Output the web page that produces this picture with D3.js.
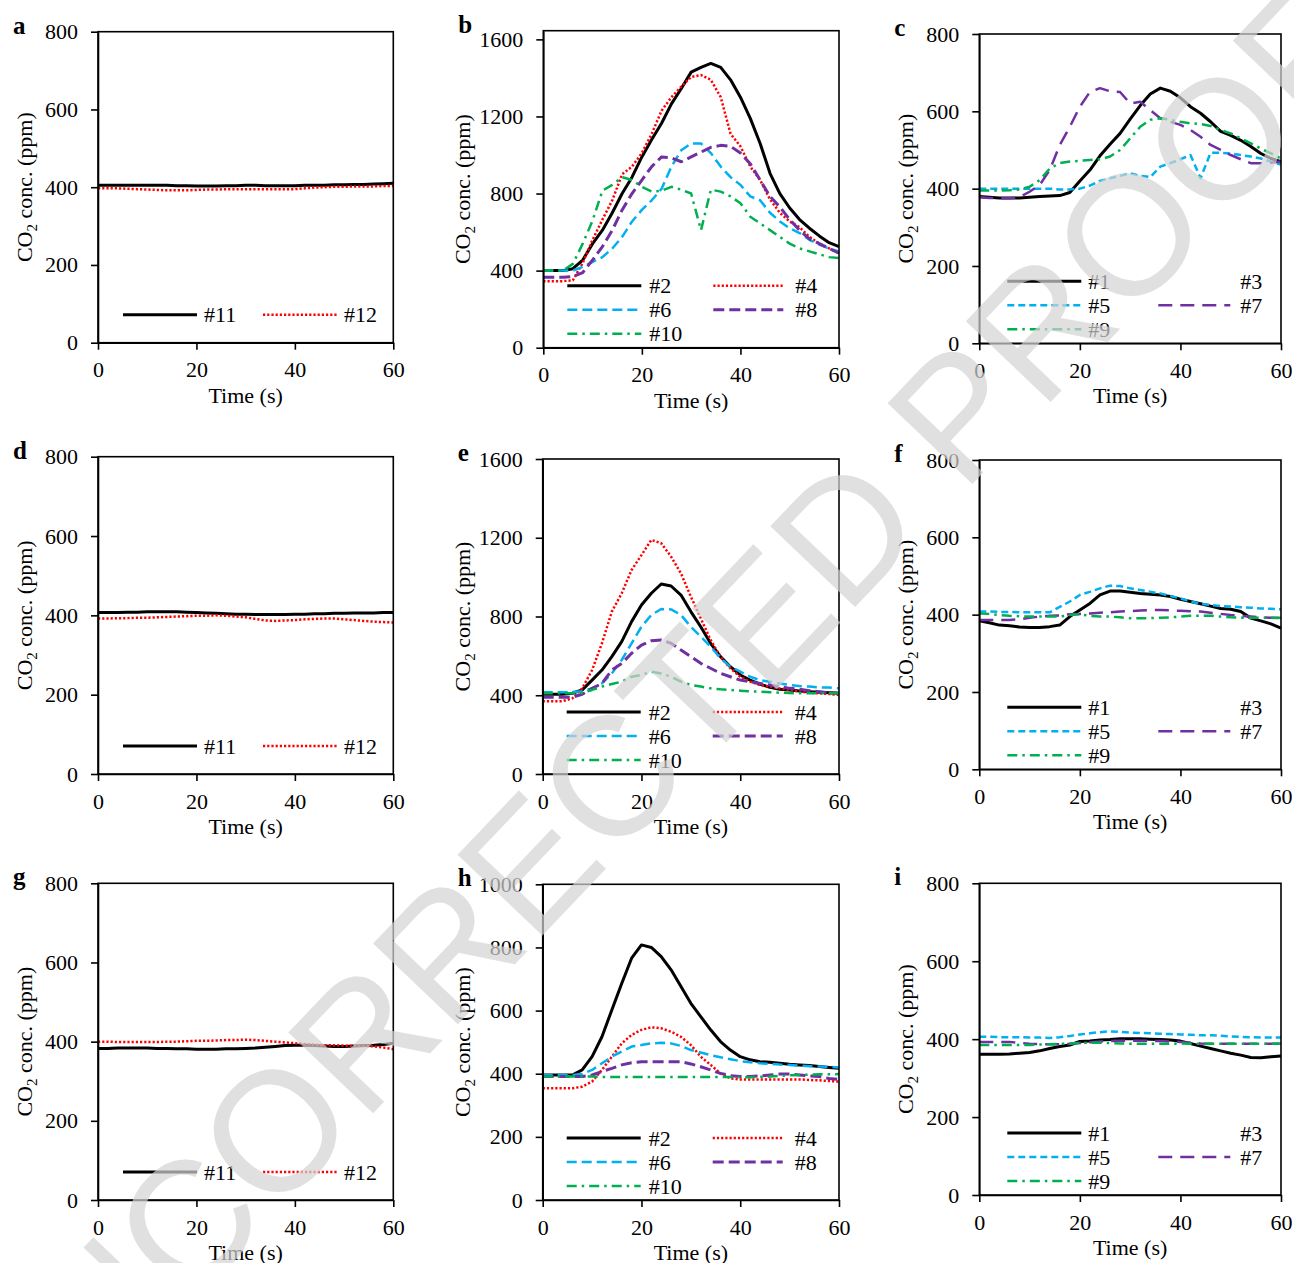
<!DOCTYPE html>
<html>
<head>
<meta charset="utf-8">
<script src="https://cdn.jsdelivr.net/npm/d3@7"></script>
<style>
  body { margin: 0; background: #fff; }
</style>
</head>
<body>
<div id="container"></div>
<script>
// shared time axis (s)
const time = [0,2,4,6,8,10,12,14,16,18,20,22,24,26,28,30,32,34,36,38,40,42,44,46,48,50,52,54,56,58,60];
const xTicks = [0,20,40,60];
const yTicks800 = [0,200,400,600,800];
const yTicks1000 = [0,200,400,600,800,1000];
const yTicks1600 = [0,400,800,1200,1600];

// CO2 concentration (ppm) per panel and sensor
const aS11 = [405,405,405,405,405,405,405,405,404,404,403,403,403,404,404,405,405,404,404,404,404,405,405,405,406,406,407,407,408,409,410];
const aS12 = [397,397,397,396,395,394,393,392,392,392,393,394,394,395,395,395,395,395,395,395,395,397,399,400,401,401,402,402,402,403,403];

const bS2  = [400,400,400,410,455,540,610,700,800,885,990,1080,1165,1265,1345,1430,1455,1475,1455,1390,1300,1190,1060,905,800,725,665,620,580,545,525];
const bS4  = [345,345,345,350,440,560,665,765,900,940,1010,1110,1230,1300,1355,1405,1415,1390,1300,1110,1045,940,870,770,700,655,625,575,540,515,490];
const bS6  = [400,400,400,400,420,445,470,515,575,655,715,765,825,940,1025,1060,1060,1010,940,885,845,785,765,700,655,620,595,560,535,515,500];
const bS8  = [365,365,365,370,390,455,525,610,715,800,870,940,990,985,965,990,1015,1040,1050,1045,1010,955,870,785,730,665,610,565,540,515,490];
const bS10 = [400,400,400,435,540,660,815,845,885,870,835,810,815,835,820,800,610,820,810,785,750,680,645,610,575,540,515,500,485,470,465];

const cS1 = [380,378,376,376,376,378,380,381,382,390,420,448,485,515,543,580,615,645,660,652,635,612,595,573,548,538,525,509,491,478,470];
const cS5 = [400,400,400,400,400,400,400,400,398,398,400,408,420,427,433,440,433,430,457,466,476,487,427,493,493,491,487,483,478,470,462];
const cS7 = [378,376,375,375,378,392,409,448,513,560,612,650,660,652,650,620,625,603,582,573,565,552,534,513,500,487,476,466,466,467,470];
const cS9 = [395,395,395,396,398,405,422,452,466,470,472,474,476,483,500,530,560,578,582,578,573,569,567,562,552,543,530,517,504,491,478];

const dS11 = [407,407,407,408,408,409,409,409,409,408,407,406,405,404,403,403,402,402,402,402,403,403,404,404,405,405,406,406,406,407,407];
const dS12 = [392,392,393,393,394,394,395,396,397,398,399,399,400,399,397,395,391,387,386,387,388,390,391,392,392,390,388,386,384,383,382];

const eS2  = [405,405,405,410,427,477,528,596,672,774,858,918,965,955,909,825,748,664,596,545,503,477,457,440,430,427,422,418,415,413,410];
const eS4  = [370,370,370,384,435,528,664,825,918,1036,1112,1189,1172,1104,1019,901,791,681,596,537,494,469,452,444,435,427,418,413,410,406,401];
const eS6  = [415,415,415,416,420,435,460,511,579,664,748,808,838,836,808,748,698,647,588,545,520,494,477,469,460,452,447,444,440,439,435];
const eS8  = [390,390,390,390,405,435,460,528,562,613,655,677,681,664,630,596,562,537,511,494,477,469,460,452,444,435,430,423,418,413,410];
const eS10 = [410,410,410,410,412,427,444,457,469,494,503,520,511,494,469,452,444,435,430,427,423,420,418,415,413,411,410,410,410,410,410];

const fS1 = [384,379,373,371,368,367,367,369,373,395,412,429,451,461,461,458,455,453,451,447,440,434,428,422,416,414,408,391,384,376,365];
const fS5 = [408,408,407,407,406,406,406,406,420,434,451,459,468,475,474,468,464,459,455,448,442,434,428,425,422,421,419,418,416,415,414];
const fS7 = [386,386,386,386,388,392,395,397,398,401,402,403,405,406,408,409,411,412,412,411,410,409,408,405,402,399,397,395,393,392,391];
const fS9 = [403,402,399,397,396,395,395,395,395,399,401,397,395,395,393,391,391,391,392,393,395,397,397,397,395,393,392,392,392,392,392];

const gS11 = [383,383,384,384,384,384,383,383,382,382,381,381,381,382,382,383,384,386,388,390,391,391,390,389,388,388,389,390,391,393,396];
const gS12 = [400,400,399,399,399,399,399,400,400,401,402,402,403,404,404,405,404,402,400,398,396,394,392,391,391,390,389,389,388,385,381];

const hS2  = [396,396,396,396,412,454,517,602,686,766,808,800,771,729,676,623,581,539,502,475,454,444,438,436,433,430,428,426,423,420,417];
const hS4  = [354,354,354,354,359,375,412,454,496,523,539,547,544,533,517,491,454,428,401,385,382,382,382,382,382,382,382,380,379,377,375];
const hS6  = [396,396,396,396,399,412,433,454,470,486,491,496,498,496,488,475,467,459,452,446,440,436,433,431,429,428,426,424,423,422,420];
const hS8  = [391,391,391,391,391,396,407,417,428,435,438,438,438,438,438,431,422,412,401,394,391,391,393,396,399,399,396,393,391,385,382];
const hS10 = [391,391,391,391,391,391,390,390,390,390,390,390,390,390,390,390,390,390,390,390,389,389,390,391,393,395,396,397,398,398,399];

const iS1 = [361,361,361,362,364,366,370,376,381,385,394,395,398,399,401,401,401,400,399,398,395,389,382,376,370,364,359,353,352,355,357];
const iS5 = [406,406,405,405,405,404,404,403,405,408,412,415,418,420,419,417,416,415,414,413,412,411,410,410,409,407,406,405,404,404,404];
const iS7 = [393,393,393,393,390,388,387,387,387,388,390,392,394,395,396,396,396,396,395,394,393,391,389,388,388,388,388,388,388,388,388];
const iS9 = [385,385,385,385,385,385,386,387,388,389,390,391,391,390,389,388,388,388,388,388,389,388,388,388,388,388,388,388,388,388,389];

// line styles
const styles = {
  black:      { color: "#000000", width: 3,   dash: null },
  red:        { color: "#ff0000", width: 2.5, dash: "2.2,2" },
  blue:       { color: "#00b0f0", width: 2.5, dash: "10,5" },
  blueShort:  { color: "#00b0f0", width: 2.5, dash: "7,4" },
  purple:     { color: "#7030a0", width: 3,   dash: "11,5" },
  purpleLong: { color: "#7030a0", width: 2.5, dash: "14,8" },
  green:      { color: "#00b050", width: 2.5, dash: "10,5,2.5,5" }
};

// legend layouts: cols = [lineStart, lineEnd, textX] from plot left, rows from plot bottom
const legend2 = { rows: [-28], cols: [[25, 99, 106], [165, 239, 246]] };
const legend5even = { rows: [-62, -38, -14], cols: [[24, 98, 106], [170, 240, 252]] };
const legend5odd = { rows: [-62, -38, -14], cols: [[28, 102, 109], [179, 251, 261]] };

const panels = [
  { tag: "a", left: 98,    top: 31.7,  right: 393.3, bottom: 342.7, yTop: 800,  yTicks: yTicks800,  titleOff: 66, leg: legend2,
    series: [["#11", aS11, "black"], ["#12", aS12, "red"]] },
  { tag: "b", left: 543.3, top: 30.7,  right: 839,   bottom: 347.7, yTop: 1645, yTicks: yTicks1600, titleOff: 73, leg: legend5even,
    series: [["#2", bS2, "black"], ["#4", bS4, "red"], ["#6", bS6, "blue"], ["#8", bS8, "purple"], ["#10", bS10, "green"]] },
  { tag: "c", left: 979.3, top: 34,    right: 1281,  bottom: 343.3, yTop: 800,  yTicks: yTicks800,  titleOff: 66, leg: legend5odd,
    series: [["#1", cS1, "black"], ["#3", null, null], ["#5", cS5, "blueShort"], ["#7", cS7, "purpleLong"], ["#9", cS9, "green"]] },
  { tag: "d", left: 98,    top: 456.7, right: 393.3, bottom: 774,   yTop: 800,  yTicks: yTicks800,  titleOff: 66, leg: legend2,
    series: [["#11", dS11, "black"], ["#12", dS12, "red"]] },
  { tag: "e", left: 542.7, top: 459,   right: 839,   bottom: 774,   yTop: 1600, yTicks: yTicks1600, titleOff: 73, leg: legend5even,
    series: [["#2", eS2, "black"], ["#4", eS4, "red"], ["#6", eS6, "blue"], ["#8", eS8, "purple"], ["#10", eS10, "green"]] },
  { tag: "f", left: 979.3, top: 460,   right: 1281,  bottom: 769.3, yTop: 800,  yTicks: yTicks800,  titleOff: 66, leg: legend5odd,
    series: [["#1", fS1, "black"], ["#3", null, null], ["#5", fS5, "blueShort"], ["#7", fS7, "purpleLong"], ["#9", fS9, "green"]] },
  { tag: "g", left: 98,    top: 883.3, right: 393.3, bottom: 1200,  yTop: 800,  yTicks: yTicks800,  titleOff: 66, leg: legend2,
    series: [["#11", gS11, "black"], ["#12", gS12, "red"]] },
  { tag: "h", left: 542.7, top: 884.3, right: 839,   bottom: 1200,  yTop: 1000, yTicks: yTicks1000, titleOff: 73, leg: legend5even,
    series: [["#2", hS2, "black"], ["#4", hS4, "red"], ["#6", hS6, "blue"], ["#8", hS8, "purple"], ["#10", hS10, "green"]] },
  { tag: "i", left: 979.3, top: 883.3, right: 1281,  bottom: 1195,  yTop: 800,  yTicks: yTicks800,  titleOff: 66, leg: legend5odd,
    series: [["#1", iS1, "black"], ["#3", null, null], ["#5", iS5, "blueShort"], ["#7", iS7, "purpleLong"], ["#9", iS9, "green"]] }
];

const serif = "'Liberation Serif', 'Times New Roman', serif";

let viz = d3.select("#container")
  .append("svg")
    .attr("width", 1294)
    .attr("height", 1263)
    .style("background", "#fff");

panels.forEach(p => {
  const x = d3.scaleLinear().domain([0, 60]).range([p.left, p.right]);
  const y = d3.scaleLinear().domain([0, p.yTop]).range([p.bottom, p.top]);
  const g = viz.append("g");

  // series lines
  const line = d3.line()
    .x((d, i) => x(time[i]))
    .y(d => y(d));

  p.series.forEach(s => {
    if (!s[1]) return;
    const st = styles[s[2]];
    g.append("path")
      .datum(s[1])
      .attr("d", line)
      .attr("fill", "none")
      .attr("stroke", st.color)
      .attr("stroke-width", st.width)
      .attr("stroke-dasharray", st.dash)
      .attr("stroke-linejoin", "round");
  });

  // frame
  g.append("rect")
    .attr("x", p.left)
    .attr("y", p.top)
    .attr("width", p.right - p.left)
    .attr("height", p.bottom - p.top)
    .attr("fill", "none")
    .attr("stroke", "black")
    .attr("stroke-width", 1.6);

  // axes
  const yAxis = g.append("g")
    .attr("transform", `translate(${p.left},0)`)
    .call(d3.axisLeft(y).tickValues(p.yTicks).tickFormat(d3.format("d"))
      .tickSize(7).tickSizeOuter(0).tickPadding(13));
  const xAxis = g.append("g")
    .attr("transform", `translate(0,${p.bottom})`)
    .call(d3.axisBottom(x).tickValues(xTicks).tickFormat(d3.format("d"))
      .tickSize(7).tickSizeOuter(0).tickPadding(12));

  [yAxis, xAxis].forEach(ax => {
    ax.select(".domain").attr("stroke", "black").attr("stroke-width", 1.6);
    ax.selectAll(".tick line").attr("stroke", "black").attr("stroke-width", 1.6);
    ax.selectAll("text")
      .attr("font-family", serif)
      .attr("font-size", 22)
      .attr("fill", "black");
  });

  // axis titles
  g.append("text")
    .text("Time (s)")
    .attr("font-family", serif)
    .attr("font-size", 22)
    .attr("text-anchor", "middle")
    .attr("x", (p.left + p.right) / 2)
    .attr("y", p.bottom + 60);

  const yt = g.append("text")
    .attr("font-family", serif)
    .attr("font-size", 22)
    .attr("text-anchor", "middle")
    .attr("transform", `translate(${p.left - p.titleOff},${(p.top + p.bottom) / 2}) rotate(-90)`);
  yt.append("tspan").text("CO");
  yt.append("tspan").text("2").attr("font-size", 15).attr("dy", 5);
  yt.append("tspan").text(" conc. (ppm)").attr("dy", -5);

  // panel letter
  g.append("text")
    .text(p.tag)
    .attr("font-family", serif)
    .attr("font-weight", "bold")
    .attr("font-size", 25)
    .attr("x", p.left - 85)
    .attr("y", p.top + 2);

  // legend
  p.series.forEach((s, k) => {
    const col = p.leg.cols[k % 2];
    const ly = p.bottom + p.leg.rows[Math.floor(k / 2)];
    if (s[2]) {
      const st = styles[s[2]];
      g.append("line")
        .attr("x1", p.left + col[0])
        .attr("x2", p.left + col[1])
        .attr("y1", ly)
        .attr("y2", ly)
        .attr("stroke", st.color)
        .attr("stroke-width", st.width)
        .attr("stroke-dasharray", st.dash);
    }
    g.append("text")
      .text(s[0])
      .attr("font-family", serif)
      .attr("font-size", 22)
      .attr("x", p.left + col[2])
      .attr("y", ly + 7.5);
  });
});

// watermark
viz.append("text")
  .text("UNCORRECTED PROOF")
  .attr("font-family", "'Liberation Sans', Arial, sans-serif")
  .attr("font-size", 170)
  .attr("text-anchor", "middle")
  .attr("fill", "#d4d4d4")
  .attr("opacity", 0.7)
  .attr("transform", "translate(699,771) rotate(-46.4)");
</script>
</body>
</html>
